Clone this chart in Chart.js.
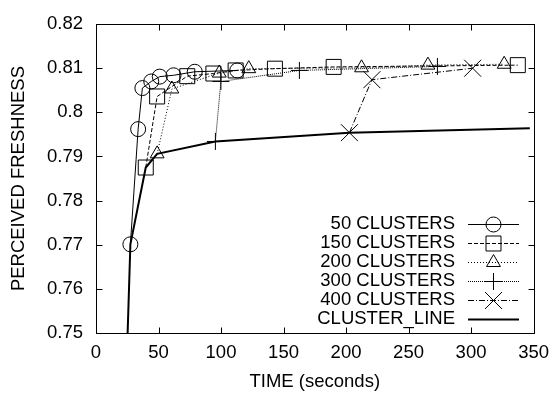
<!DOCTYPE html>
<html>
<head>
<meta charset="utf-8">
<script src="https://cdn.jsdelivr.net/npm/chart.js@4.4.0/dist/chart.umd.min.js"></script>
<style>
  html, body { margin: 0; padding: 0; background: #fff; }
  #wrap { width: 558px; height: 396px; }
</style>
</head>
<body>
<div id="wrap"><canvas id="c" width="558" height="396"></canvas></div>
<script>
// ---- data ----
const xTicks = [0, 50, 100, 150, 200, 250, 300, 350];
const yTicks = [0.75, 0.76, 0.77, 0.78, 0.79, 0.8, 0.81, 0.82];

const c50Time  = [27.5, 33.7, 37.1, 44.2, 51.0, 62.0, 79.0, 113.0];
const c50Fresh = [0.7701, 0.7962, 0.8055, 0.8070, 0.8081, 0.8084, 0.8092, 0.8095];

const c150Time  = [39.8, 48.9, 73.0, 93.9, 111.7, 143.1, 190.1, 337.4];
const c150Fresh = [0.7875, 0.8036, 0.8082, 0.8088, 0.8095, 0.8099, 0.8103, 0.8107];

const c200Time  = [48.9, 60.7, 98.6, 122.2, 212.4, 265.5, 326.5];
const c200Fresh = [0.7906, 0.8053, 0.8089, 0.8099, 0.8101, 0.8107, 0.8109];

const c300Time  = [95.5, 99.9, 162.7, 273.1];
const c300Fresh = [0.7934, 0.8070, 0.8095, 0.8104];

const c400Time  = [202.7, 220.7, 301.3];
const c400Fresh = [0.7954, 0.8074, 0.8100];

const lineTime  = [25.3, 27.5, 39.8, 48.9, 95.5, 202.7, 347.0];
const lineFresh = [0.7500, 0.7701, 0.7875, 0.7906, 0.7934, 0.7954, 0.7964];

const seriesNames = ['50 CLUSTERS', '150 CLUSTERS', '200 CLUSTERS', '300 CLUSTERS', '400 CLUSTERS', 'CLUSTER_LINE'];

// ---- build ----
function pts(xs, ys) { return xs.map((x, i) => ({ x: x, y: ys[i] })); }

const FONT = 'Liberation Sans, Arial, sans-serif';
const FS = 18.5;

function ds(label, data, style, radius, dash, width) {
  return {
    label: label,
    data: data,
    showLine: true,
    borderColor: '#000',
    backgroundColor: 'rgba(0,0,0,0)',
    borderWidth: width,
    borderDash: dash,
    pointStyle: style,
    pointRadius: radius,
    pointHoverRadius: radius,
    pointBorderWidth: 1,
    pointBorderColor: '#000',
    pointBackgroundColor: 'rgba(0,0,0,0)',
    tension: 0,
    fill: false
  };
}

const datasets = [
  ds(seriesNames[0], pts(c50Time, c50Fresh), 'circle', 7.5, [], 1),
  ds(seriesNames[1], pts(c150Time, c150Fresh), 'rect', 10.6, [4, 2], 1),
  ds(seriesNames[2], pts(c200Time, c200Fresh), 'triangle', 8, [1, 2], 1),
  ds(seriesNames[3], pts(c300Time, c300Fresh), 'cross', 8.5, [1, 1], 1),
  ds(seriesNames[4], pts(c400Time, c400Fresh), 'crossRot', 12, [6, 2, 1, 2], 1),
  ds(seriesNames[5], pts(lineTime, lineFresh), 'circle', 0, [], 2)
];

const frame = {
  id: 'frame',
  afterDraw(chart) {
    const { ctx, chartArea: a, scales } = chart;
    ctx.save();
    ctx.strokeStyle = '#000';
    ctx.lineWidth = 1;
    ctx.setLineDash([]);
    const L = Math.round(a.left) + 0.5, R = Math.round(a.right) + 0.5;
    const T = Math.round(a.top) + 0.5, B = Math.round(a.bottom) + 0.5;
    ctx.strokeRect(L, T, R - L, B - T);
    const tl = 6;
    ctx.beginPath();
    xTicks.forEach(v => {
      const px = Math.round(scales.x.getPixelForValue(v)) + 0.5;
      ctx.moveTo(px, B); ctx.lineTo(px, B - tl);
      ctx.moveTo(px, T); ctx.lineTo(px, T + tl);
    });
    yTicks.forEach(v => {
      const py = Math.round(scales.y.getPixelForValue(v)) + 0.5;
      ctx.moveTo(L, py); ctx.lineTo(L + tl, py);
      ctx.moveTo(R, py); ctx.lineTo(R - tl, py);
    });
    ctx.stroke();
    ctx.restore();
  }
};

const legendBox = {
  id: 'legendBox',
  afterDatasetsDraw(chart) {
    const ctx = chart.ctx;
    const textRight = 455, x0 = 468, x1 = 519, xm = 493.5;
    const y0 = 223.7, dy = 19;
    ctx.save();
    chart.data.datasets.forEach((d, i) => {
      const y = y0 + i * dy;
      ctx.fillStyle = '#000';
      ctx.font = FS + 'px ' + FONT;
      ctx.textAlign = 'right';
      ctx.textBaseline = 'middle';
      ctx.fillText(d.label, textRight, y);
      ctx.strokeStyle = '#000';
      ctx.lineWidth = d.borderWidth;
      ctx.setLineDash(d.borderDash);
      ctx.beginPath();
      ctx.moveTo(x0, Math.round(y) + 0.5);
      ctx.lineTo(x1, Math.round(y) + 0.5);
      ctx.stroke();
      ctx.setLineDash([]);
      if (d.pointRadius > 0) {
        ctx.lineWidth = 1;
        ctx.fillStyle = 'rgba(0,0,0,0)';
        Chart.helpers.drawPoint(ctx, { pointStyle: d.pointStyle, radius: d.pointRadius, rotation: 0, borderWidth: 1 }, xm, Math.round(y) + 0.5);
      }
    });
    ctx.restore();
  }
};

new Chart(document.getElementById('c'), {
  type: 'scatter',
  data: { datasets: datasets },
  options: {
    responsive: false,
    animation: false,
    devicePixelRatio: 1,
    layout: { padding: { top: 12, right: 16, left: 0, bottom: 0 } },
    plugins: { legend: { display: false }, tooltip: { enabled: false } },
    elements: { line: { borderJoinStyle: 'miter' } },
    scales: {
      x: {
        type: 'linear', min: 0, max: 350,
        afterBuildTicks: s => { s.ticks = xTicks.map(v => ({ value: v })); },
        afterFit: s => { s.height = 63; },
        grid: { display: false, drawTicks: false },
        border: { display: false },
        ticks: { color: '#000', padding: 9, font: { family: FONT, size: FS }, maxRotation: 0, autoSkip: false,
                 callback: v => String(v) },
        title: { display: true, text: 'TIME (seconds)', color: '#000', font: { family: FONT, size: FS, lineHeight: 1.2 }, padding: { top: 0, bottom: 3.4 } }
      },
      y: {
        type: 'linear', min: 0.75, max: 0.82,
        afterBuildTicks: s => { s.ticks = yTicks.map(v => ({ value: v })); },
        afterFit: s => { s.width = 96; },
        grid: { display: false, drawTicks: false },
        border: { display: false },
        ticks: { color: '#000', padding: 13, font: { family: FONT, size: FS }, autoSkip: false,
                 callback: v => String(Number(v.toFixed(2))) },
        title: { display: true, text: 'PERCEIVED FRESHNESS', color: '#000', font: { family: FONT, size: FS, lineHeight: 1.2 }, padding: { top: 8, bottom: 0 } }
      }
    }
  },
  plugins: [frame, legendBox]
});
</script>
</body>
</html>
